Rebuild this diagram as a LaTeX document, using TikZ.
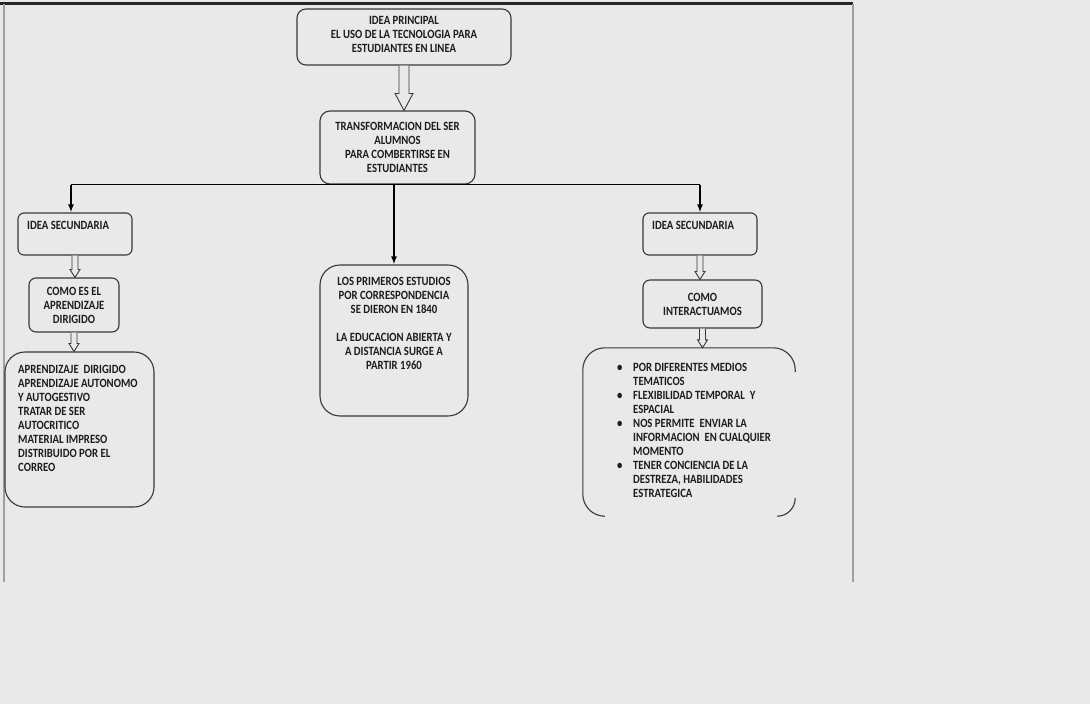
\documentclass[tikz,border=0pt]{standalone}
\usepackage{fontspec}
\setmainfont[FakeStretch=0.85]{Carlito}
\usepackage{tikz}
\usetikzlibrary{positioning,calc,arrows.meta}
\definecolor{Fondo}{HTML}{E9E9E9}
\definecolor{Borde}{HTML}{383838}
\definecolor{Tinta}{HTML}{1C1C1C}

\tikzset{
  caja/.style={draw=Borde, line width=1.1pt, rounded corners=#1, inner sep=0pt},
  caja/.default=7,
  texto/.style={text=Tinta, font=\bfseries\fontsize{12.6}{14}\selectfont, inner sep=0pt},
  conector/.style={draw=black, line width=1.7pt},
  hueca/.style={draw=Borde, line width=0.9pt, fill=Fondo, line join=miter}
}

% hollow block arrow between two boxes
\newcommand{\flechahueca}[5]{%
  \draw[hueca] let \p1=(#1.south), \p2=(#2.north) in
    (\x1-#3pt,\y1) -- (\x1-#3pt,\y2+#5pt) -- (\x1-#4pt,\y2+#5pt) -- (\x1,\y2)
    -- (\x1+#4pt,\y2+#5pt) -- (\x1+#3pt,\y2+#5pt) -- (\x1+#3pt,\y1);}

\begin{document}
\begin{tikzpicture}[x=1pt, y=-1pt]
  \useasboundingbox[fill=Fondo] (0,0) rectangle (1090,704);

  % page edges
  \draw[line width=3pt, black!85] (0,3) -- (853,3);
  \draw[line width=2pt, gray!75] (3.5,4) -- (3.5,582);
  \draw[line width=2pt, gray!75] (852.5,4) -- (852.5,582);

  % main idea
  \node[caja=9, minimum width=214, minimum height=56] (principal) at (404,37) {};
  \node[texto, align=center] (principalt) at ([yshift=2.5pt]principal.center) {IDEA PRINCIPAL\\EL USO DE LA TECNOLOGIA PARA\\ESTUDIANTES EN LINEA};

  \node[caja=10, minimum width=155, minimum height=73] (transf) at (397.5,147.5) {};
  \node[texto, align=center] (transft) at (transf) {TRANSFORMACION DEL SER\\ALUMNOS\\PARA COMBERTIRSE EN\\ESTUDIANTES};

  \flechahueca{principal}{transf}{5}{9}{17}

  % left branch
  \node[caja=6, minimum width=114, minimum height=42] (izq1) at (75,234) {};
  \node[texto, anchor=north west] (izq1t) at (27,221) {IDEA SECUNDARIA};

  \node[caja=7, minimum width=90, minimum height=54] (izq2) at (74,305) {};
  \node[texto, align=center] (izq2t) at (izq2) {COMO ES EL\\APRENDIZAJE\\DIRIGIDO};

  \node[caja=20, minimum width=149, minimum height=155] (izq3) at (79.5,429.5) {};
  \node[texto, align=left, anchor=north west] (izq3t) at (18,365) {APRENDIZAJE\ \ DIRIGIDO\\APRENDIZAJE AUTONOMO\\Y AUTOGESTIVO\\TRATAR DE SER\\AUTOCRITICO\\MATERIAL IMPRESO\\DISTRIBUIDO POR EL\\CORREO};

  \flechahueca{izq1}{izq2}{3}{5}{8}
  \flechahueca{izq2}{izq3}{3}{5}{8}

  % middle branch
  \node[caja=20, minimum width=148, minimum height=151] (centro) at (394,340.5) {};
  \node[texto, align=center, anchor=north] (centrot) at (394,277) {LOS PRIMEROS ESTUDIOS\\POR CORRESPONDENCIA\\SE DIERON EN 1840\\[14pt]LA EDUCACION ABIERTA Y\\A DISTANCIA\ SURGE A\\PARTIR 1960};

  % right branch
  \node[caja=6, minimum width=114, minimum height=42] (der1) at (700,234) {};
  \node[texto, anchor=north west] (der1t) at (652,221) {IDEA SECUNDARIA};

  \node[caja=7, minimum width=119, minimum height=48] (der2) at (702.5,304) {};
  \node[texto, align=center] (der2t) at (der2) {COMO\\INTERACTUAMOS};

  \node[minimum width=212, minimum height=168, inner sep=0pt] (der3) at (689,432) {};
  \draw[Borde, line width=1.1pt, rounded corners=22] ([yshift=-24]der3.north east) -- (der3.north east)
    -- (der3.north west) -- (der3.south west) -- ([xshift=22]der3.south west);
  \draw[Borde, line width=1.1pt, rounded corners=18] ([xshift=-18]der3.south east) -- (der3.south east)
    -- ([yshift=18]der3.south east);
  \node[texto, align=left, anchor=north west] (der3t) at (617,363)
    {\makebox[16pt][l]{\textbullet}POR DIFERENTES MEDIOS\\\hspace*{16pt}TEMATICOS\\
     \makebox[16pt][l]{\textbullet}FLEXIBILIDAD TEMPORAL\ \ Y\\\hspace*{16pt}ESPACIAL\\
     \makebox[16pt][l]{\textbullet}NOS PERMITE\ \ ENVIAR LA\\\hspace*{16pt}INFORMACION\ \ EN CUALQUIER\\\hspace*{16pt}MOMENTO\\
     \makebox[16pt][l]{\textbullet}TENER CONCIENCIA DE LA\\\hspace*{16pt}DESTREZA, HABILIDADES\\\hspace*{16pt}ESTRATEGICA};

  \flechahueca{der1}{der2}{3}{5}{8}
  \flechahueca{der2}{der3}{3}{5}{8}

  % tree connectors
  \draw[conector] ([xshift=-4]izq1.north |- transf.south) -- (der1.north |- transf.south);
  \draw[conector, -{Latex[length=8pt,width=6pt]}] ([xshift=-4]izq1.north |- transf.south) -- ([xshift=-4]izq1.north);
  \draw[conector, -{Latex[length=8pt,width=6pt]}] (centro.north |- transf.south) -- (centro.north);
  \draw[conector, -{Latex[length=8pt,width=6pt]}] (der1.north |- transf.south) -- (der1.north);
\end{tikzpicture}
\end{document}
